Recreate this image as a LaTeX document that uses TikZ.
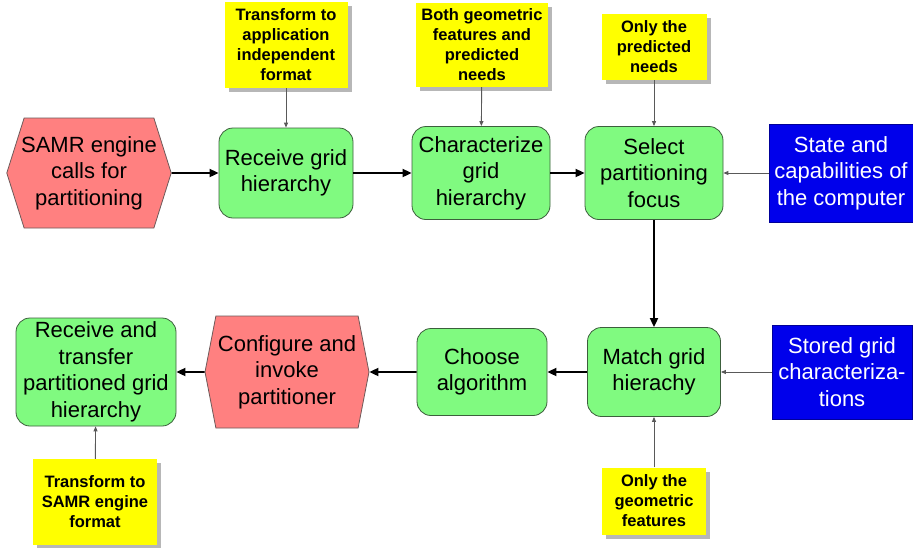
\documentclass[tikz,border=0pt]{standalone}
\usepackage{fontspec}
\setmainfont{Liberation Sans}
\usetikzlibrary{arrows.meta, positioning, shapes.symbols, shadows}
\definecolor{procgreen}{RGB}{128,250,128}
\definecolor{procedge}{RGB}{60,95,60}
\definecolor{evtred}{RGB}{255,128,128}
\definecolor{evtedge}{RGB}{110,90,90}
\definecolor{resblue}{RGB}{0,0,235}
\definecolor{noteyellow}{RGB}{255,255,0}

\begin{document}
\begin{tikzpicture}[x=1pt, y=-1pt,
  every node/.style={align=center, inner sep=2pt},
  proc/.style={rounded corners=14pt, draw=procedge, line width=0.8pt, fill=procgreen,
    minimum width=134pt, minimum height=90pt, font=\fontsize{22}{26.5}\selectfont},
  evt/.style={signal, signal to=east and west, draw=evtedge, line width=0.8pt, fill=evtred,
    font=\fontsize{22}{26.5}\selectfont},
  res/.style={draw=blue!60!black, line width=0.6pt, fill=resblue, text=white,
    minimum width=142pt, minimum height=96pt, font=\fontsize{22}{26.5}\selectfont},
  note/.style={fill=noteyellow, font=\fontsize{16.5}{20}\selectfont\bfseries,
    drop shadow={shadow xshift=4pt, shadow yshift=-4pt, fill=gray!70, opacity=0.8}},
  main/.style={-{Triangle[length=9pt, width=8pt]}, line width=1.8pt},
  feed/.style={-{Triangle[length=5pt, width=4pt]}, line width=0.9pt, draw=black!65}]
\useasboundingbox[fill=white] (0,0) rectangle (913,547);

% top row
\node[evt, minimum height=110pt, inner xsep=-3pt, signal pointer angle=145] (engine) at (89,173)
  {SAMR engine\\calls for\\partitioning};
\node[proc] (recv) at (286,173) {Receive grid\\hierarchy};
\node[proc, minimum width=138pt, minimum height=93pt] (charz) at (481,173) {Characterize\\grid\\hierarchy};
\node[proc, minimum width=138pt, minimum height=93pt] (focus) at (654,173) {Select\\partitioning\\focus};
\node[res, minimum width=144pt, minimum height=98pt] (state) at (841,173)
  {State and\\capabilities of\\the computer};

% notes above
\node[note, minimum width=123pt, minimum height=86pt] (nfmt) at (286,45)
  {Transform to\\application\\independent\\format};
\node[note, minimum width=132pt, minimum height=84pt] (nboth) at (482,45)
  {Both geometric\\features and\\predicted\\needs};
\node[note, minimum width=105pt, minimum height=66pt] (npred) at (654,47)
  {Only the\\predicted\\needs};

% bottom row
\node[proc, minimum width=160pt, minimum height=108pt, inner sep=0pt] (xfer) at (96,372)
  {Receive and\\transfer\\partitioned grid\\hierarchy};
\node[evt, minimum height=112pt, signal pointer angle=158] (invoke) at (287,372)
  {Configure and\\invoke\\partitioner};
\node[proc, minimum width=130pt, minimum height=87pt] (algo) at (482,372) {Choose\\algorithm};
\node[proc, minimum width=133pt, minimum height=89pt] (match) at (654,372) {Match grid\\hierachy};
\node[res, minimum width=140pt, minimum height=94pt] (stored) at (842,372)
  {Stored grid\\characteriza-\\tions};

% notes below
\node[note, minimum width=124pt, minimum height=86pt] (nsamr) at (95,502)
  {Transform to\\SAMR engine\\format};
\node[note, minimum width=104pt, minimum height=67pt] (ngeo) at (654,501)
  {Only the\\geometric\\features};

% flow
\draw[main] (engine) -- (recv);
\draw[main] (recv) -- (charz);
\draw[main] (charz) -- (focus);
\draw[main] (focus) -- (match);
\draw[main] (match) -- (algo);
\draw[main] (algo) -- (invoke);
\draw[main] (invoke) -- (xfer);

% inputs
\draw[feed] (nfmt) -- (recv);
\draw[feed] (nboth) -- (charz);
\draw[feed] (npred) -- (focus);
\draw[feed] (state) -- (focus);
\draw[feed] (stored) -- (match);
\draw[feed] (ngeo) -- (match);
\draw[feed] (nsamr) -- (xfer);
\end{tikzpicture}
\end{document}
